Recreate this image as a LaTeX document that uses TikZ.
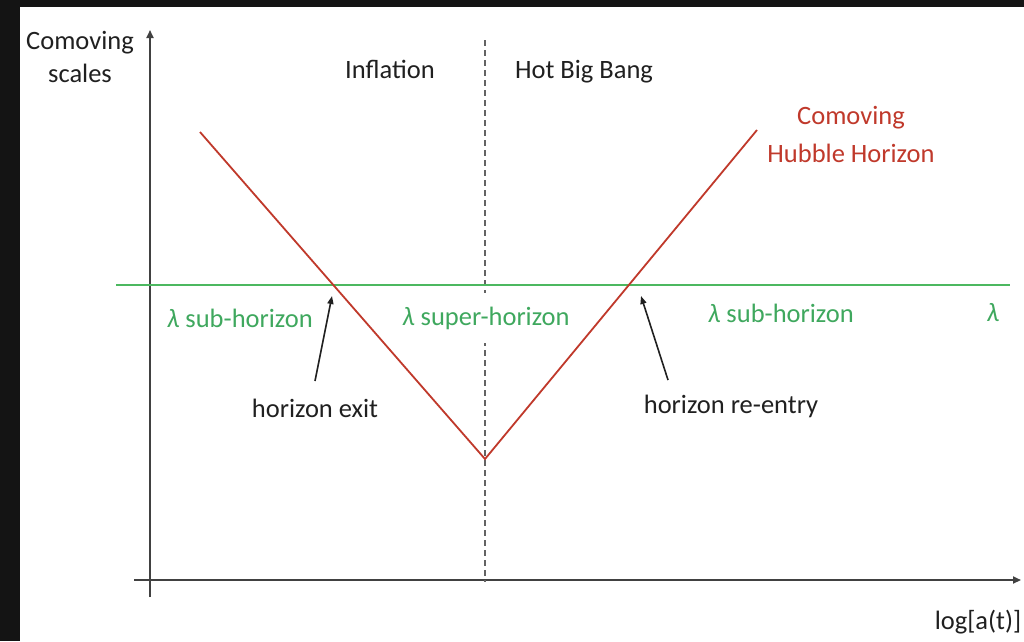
\documentclass[tikz,border=0pt]{standalone}
\usepackage{fontspec}
\setmainfont{Carlito}
\usetikzlibrary{arrows.meta}
\definecolor{frame}{HTML}{141414}
\definecolor{hubble}{HTML}{C0392B}
\definecolor{lam}{HTML}{4CB860}
\definecolor{lamtext}{HTML}{3FA85E}
\definecolor{ink}{HTML}{202020}
\tikzset{
  x=1pt, y=-1pt,
  lbl/.style={font=\fontsize{26.5}{33}\selectfont, text=ink, align=center, inner sep=0pt},
  redlbl/.style={lbl, font=\fontsize{26.5}{38}\selectfont, text=hubble},
  greenlbl/.style={lbl, text=lamtext},
  axis/.style={draw=ink!85, line width=1.8pt, -{Triangle[length=8pt,width=7pt]}},
  pointer/.style={draw=ink, line width=1.6pt, -{Triangle[length=8pt,width=6pt]}},
}
\begin{document}
\begin{tikzpicture}
\useasboundingbox (0,0) rectangle (1024,641);
\fill[frame] (0,0) rectangle (1024,641);
\fill[white] (20,7) rectangle (1024,641);
% coordinates
\coordinate (yb) at (150,597);
\coordinate (yt) at (150,30);
\coordinate (xl) at (134,580);
\coordinate (xr) at (1021,580);
\coordinate (dt) at (485,40);
\coordinate (db) at (485,582);
\coordinate (gl) at (116,285);
\coordinate (gr) at (1010,285);
\coordinate (rl) at (200,132);
\coordinate (rb) at (485,459);
\coordinate (rr) at (757,130);
\coordinate (pe0) at (315,381);
\coordinate (pe1) at (332,296);
\coordinate (pr0) at (668,380);
\coordinate (pr1) at (641,296);
% axes
\draw[axis] (yb) -- (yt);
\draw[axis] (xl) -- (xr);
% dashed divider
\draw[draw=ink!70, line width=1.2pt, dash pattern=on 6pt off 4pt] (dt) -- (db);
% lambda line
\draw[draw=lam, line width=2.6pt] (gl) -- (gr);
% hubble horizon
\draw[draw=hubble, line width=1.8pt, line join=miter] (rl) -- (rb) -- (rr);
% labels
\node[lbl] (ylab) at (80,57) {Comoving\\scales};
\node[lbl] (xlab) at (978,622) {log[a(t)]};
\node[lbl] (infl) at (390,69) {Inflation};
\node[lbl] (hbb) at (584,72) {Hot Big Bang};
\node[redlbl] (chh) at (851,134) {Comoving\\Hubble Horizon};
\node[greenlbl] (sub1) at (240,318) {\textit{λ} sub-horizon};
\node[greenlbl, fill=white, inner ysep=14pt, inner xsep=2pt] (sup) at (486,318) {\textit{λ} super-horizon};
\node[greenlbl] (sub2) at (781,313) {\textit{λ} sub-horizon};
\node[greenlbl] (lamr) at (993,313) {\textit{λ}};
\node[lbl] (hexit) at (315,408) {horizon exit};
\node[lbl] (hre) at (731,406) {horizon re-entry};
% pointers
\draw[pointer] (pe0) -- (pe1);
\draw[pointer] (pr0) -- (pr1);
\end{tikzpicture}
\end{document}
